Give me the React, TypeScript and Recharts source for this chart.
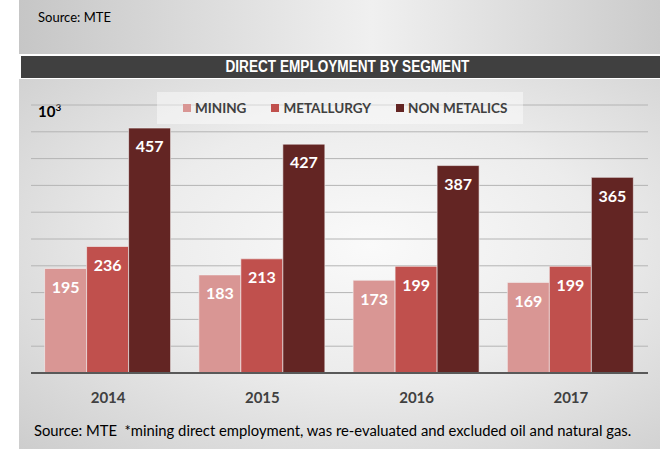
import React from 'react';
import { Bar, BarChart, CartesianGrid, LabelList, Legend, XAxis, YAxis } from 'recharts';

const years = ['2014', '2015', '2016', '2017'];
const mining = [195, 183, 173, 169];
const metallurgy = [236, 213, 199, 199];
const nonMetalics = [457, 427, 387, 365];
const yTicks = [0, 50, 100, 150, 200, 250, 300, 350, 400, 450];
const seriesNames = ['MINING', 'METALLURGY', 'NON METALICS'];

const data = years.map((year, i) => ({
	year,
	mining: mining[i],
	metallurgy: metallurgy[i],
	nonMetalics: nonMetalics[i],
}));

const font = 'Lato, "Open Sans", sans-serif';
const panelBg = 'radial-gradient(ellipse at 55% 45%, #fafafa 0%, #ececec 45%, #cdcdcd 100%)';

const LegendContent = (props: any) => {
	const items = [...(props.payload || [])].sort(
		(a: any, b: any) => seriesNames.indexOf(a.value) - seriesNames.indexOf(b.value),
	);
	return (
		<div
			style={{
				display: 'flex',
				justifyContent: 'flex-start',
				alignItems: 'center',
				gap: 25,
				height: 32,
				paddingLeft: 26,
				boxSizing: 'border-box',
				background: 'rgba(255,255,255,0.45)',
			}}>
			{items.map((item: any) => (
				<div key={item.value} style={{ display: 'flex', alignItems: 'center' }}>
					<span
						style={{
							display: 'inline-block',
							width: 8,
							height: 8,
							background: item.color,
							marginRight: 4,
						}}
					/>
					<span style={{ fontFamily: font, fontWeight: 700, fontSize: 13.5, color: '#404040' }}>
						{item.value}
					</span>
				</div>
			))}
		</div>
	);
};

const labelProps = {
	position: 'insideTop' as const,
	offset: 13,
	fill: '#ffffff',
	fontFamily: font,
	fontWeight: 700,
	fontSize: 16,
};

export default function App() {
	return (
		<div style={{ position: 'absolute', left: 0, top: 0, width: 660, height: 449, background: '#ffffff', overflow: 'hidden' }}>
			{/* top source panel */}
			<div style={{ position: 'absolute', left: 19, top: 0, width: 641, height: 54, background: 'linear-gradient(to right, #c6c6c6 0%, #f0f0f0 55%, #cbcbcb 100%)' }} />
			<div style={{ position: 'absolute', left: 38, top: 9, fontFamily: font, fontSize: 13, color: '#000' }}>
				Source: MTE
			</div>
			{/* header bar */}
			<div
				style={{
					position: 'absolute',
					left: 21,
					top: 56,
					width: 639,
					height: 22,
					background: '#404040',
					textAlign: 'center',
					boxSizing: 'border-box',
					paddingLeft: 14,
				}}>
				<span
					style={{
						display: 'inline-block',
						color: '#ffffff',
						fontFamily: '"Liberation Sans", Arial, sans-serif',
						fontWeight: 700,
						fontSize: 16,
						lineHeight: '22px',
						transform: 'scaleX(0.85)',
					}}>
					DIRECT EMPLOYMENT BY SEGMENT
				</span>
			</div>
			{/* chart panel */}
			<div style={{ position: 'absolute', left: 19, top: 79, width: 641, height: 370, background: panelBg }} />
			<div style={{ position: 'absolute', left: 38, top: 101, fontFamily: font, fontWeight: 700, fontSize: 15, color: '#000' }}>
				10<sup style={{ fontSize: 10 }}>3</sup>
			</div>
			<div style={{ position: 'absolute', left: 0, top: 0 }}>
				<BarChart
					width={660}
					height={449}
					data={data}
					barCategoryGap={13.6}
					barGap={0}
					margin={{ top: 105, right: 12, bottom: 36, left: 31 }}>
					<CartesianGrid vertical={false} stroke="#b4b4b4" strokeWidth={1} />
					<YAxis hide domain={[0, 500]} ticks={yTicks} />
					<XAxis
						dataKey="year"
						height={40}
						tickLine={false}
						tickSize={0}
						tickMargin={19}
						axisLine={{ stroke: '#595959', strokeWidth: 2 }}
						tick={{ fontFamily: font, fontWeight: 700, fontSize: 15, fill: '#404040' }}
					/>
					<Legend
						layout="horizontal"
						verticalAlign="middle"
						align="center"
						content={<LegendContent />}
						wrapperStyle={{ position: 'absolute', left: 157, top: 92, width: 366 }}
					/>
					<Bar dataKey="mining" name="MINING" fill="#D99694" stroke="#f4f4f4" strokeWidth={0.6} isAnimationActive={false}>
						<LabelList dataKey="mining" {...labelProps} />
					</Bar>
					<Bar dataKey="metallurgy" name="METALLURGY" fill="#C0504D" stroke="#f4f4f4" strokeWidth={0.6} isAnimationActive={false}>
						<LabelList dataKey="metallurgy" {...labelProps} />
					</Bar>
					<Bar dataKey="nonMetalics" name="NON METALICS" fill="#632523" stroke="#f4f4f4" strokeWidth={0.6} isAnimationActive={false}>
						<LabelList dataKey="nonMetalics" {...labelProps} />
					</Bar>
				</BarChart>
			</div>
			<div style={{ position: 'absolute', left: 34, top: 421, fontFamily: font, fontSize: 14.8, color: '#000', whiteSpace: 'nowrap' }}>
				Source: MTE&nbsp; *mining direct employment, was re-evaluated and excluded oil and natural gas.
			</div>
		</div>
	);
}
